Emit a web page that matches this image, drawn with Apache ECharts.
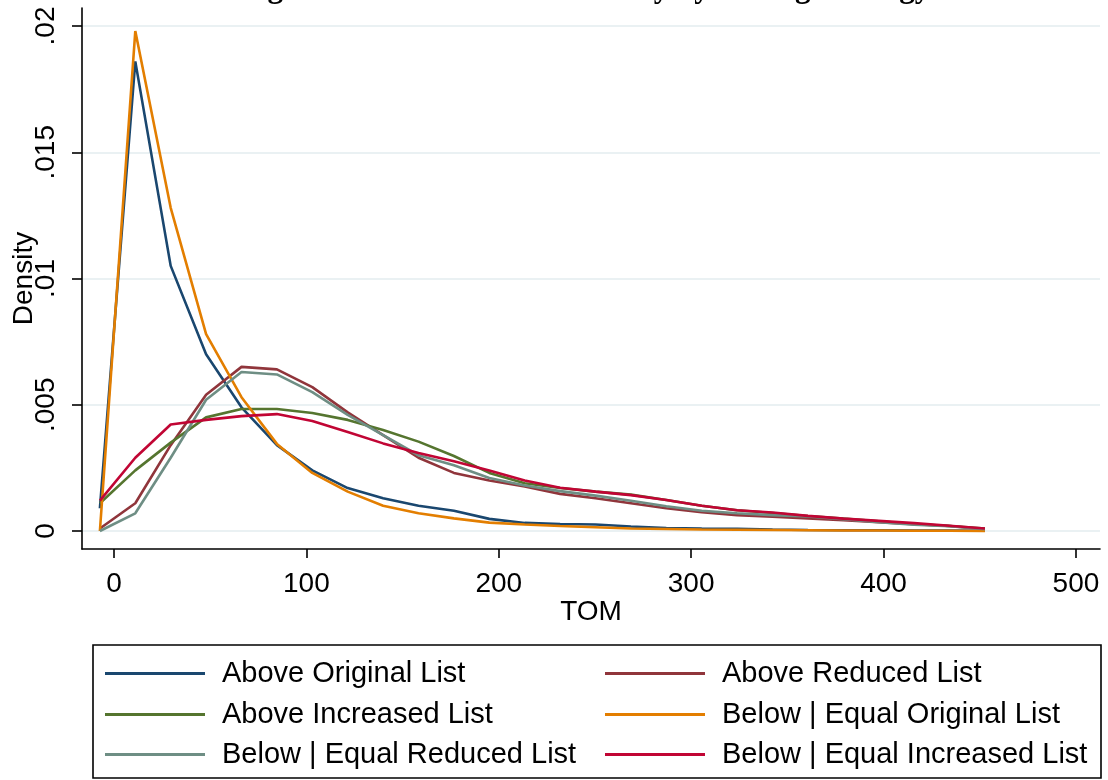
<!DOCTYPE html>
<html>
<head>
<meta charset="utf-8">
<title>TOM density by listing strategy</title>
<script src="https://cdn.jsdelivr.net/npm/echarts@6/dist/echarts.min.js"></script>
<style>
  html, body { margin: 0; padding: 0; background: #ffffff; }
  #chart { width: 1108px; height: 780px; }
</style>
</head>
<body>
<div id="chart"></div>
<script>
// Evaluation points (TOM, days) of the kernel density estimates
const tomGrid = [-7.3, 11.1, 29.5, 47.9, 66.3, 84.7, 103.1, 121.5, 139.9, 158.3, 176.7, 195.1, 213.5,
  231.9, 250.3, 268.7, 287.1, 305.5, 323.9, 342.3, 360.7, 379.1, 397.5, 415.9, 434.3, 452.7];

// Estimated densities, one array per listing-strategy group
const aboveOriginal = [0.0009, 0.0186, 0.0105, 0.0070, 0.0049, 0.0034, 0.0024, 0.0017, 0.0013, 0.0010, 0.0008, 0.00048, 0.00032,
  0.00028, 0.00026, 0.00018, 0.00012, 0.0001, 0.00009, 0.00006, 0.00004, 0.00003, 0.00003, 0.00002, 0.00002, 0.00001];
const aboveReduced = [0.0001, 0.0011, 0.0034, 0.0054, 0.0065, 0.0064, 0.0057, 0.0047, 0.0038, 0.0029, 0.0023, 0.0020, 0.00176,
  0.00147, 0.0013, 0.0011, 0.0009, 0.00074, 0.00063, 0.00057, 0.0005, 0.00043, 0.00035, 0.00027, 0.0002, 0.00007];
const aboveIncreased = [0.0011, 0.0024, 0.0035, 0.0045, 0.00483, 0.00483, 0.00467, 0.0044, 0.0040, 0.00354, 0.00297, 0.0023, 0.00189,
  0.0017, 0.00156, 0.00144, 0.00123, 0.0010, 0.00082, 0.00071, 0.00059, 0.00049, 0.00038, 0.00028, 0.0002, 0.0001];
const belowOriginal = [0, 0.0198, 0.0128, 0.0078, 0.0053, 0.00345, 0.0023, 0.00156, 0.0010, 0.0007, 0.0005, 0.00033, 0.00026,
  0.0002, 0.00015, 0.0001, 0.00008, 0.00006, 0.00005, 0.00004, 0.00003, 0.00002, 0.00002, 0.00001, 0.00001, 0];
const belowReduced = [0, 0.0007, 0.0029, 0.0052, 0.0063, 0.0062, 0.0055, 0.0046, 0.0038, 0.0030, 0.0026, 0.0021, 0.0018,
  0.00158, 0.0014, 0.0012, 0.00098, 0.0008, 0.0007, 0.00063, 0.00058, 0.00047, 0.00035, 0.00025, 0.00019, 0.00007];
const belowIncreased = [0.0012, 0.0029, 0.00422, 0.0044, 0.00455, 0.00463, 0.00436, 0.00392, 0.00347, 0.00309, 0.00276, 0.0024, 0.0020,
  0.00171, 0.00156, 0.00142, 0.00123, 0.0010, 0.00082, 0.00073, 0.0006, 0.00049, 0.0004, 0.00031, 0.00021, 0.0001];

// Group names, in legend order (two columns, filled row by row)
const groupNames = ['Above Original List', 'Above Reduced List', 'Above Increased List',
  'Below | Equal Original List', 'Below | Equal Reduced List', 'Below | Equal Increased List'];
const groupValues = [aboveOriginal, aboveReduced, aboveIncreased, belowOriginal, belowReduced, belowIncreased];
const groupColors = ['#1a476f', '#90353b', '#55752f', '#e37e00', '#6e8e84', '#c10534'];

// Axis ticks
const xTicks = [0, 100, 200, 300, 400, 500];
const yTicks = [0, 0.005, 0.01, 0.015, 0.02];

const sansFont = '"Liberation Sans", Arial, sans-serif';
const textSize = 28;

const series = groupNames.map((name, g) => ({
  name: name,
  type: 'line',
  symbol: 'none',
  smooth: false,
  data: tomGrid.map((t, i) => [t, groupValues[g][i]]),
  lineStyle: { color: groupColors[g], width: 2.6 },
  itemStyle: { color: groupColors[g] },
  emphasis: { disabled: true },
  animation: false
}));

// One legend block per entry so the two columns line up
const legendRows = [673, 714, 754];
const legendCols = [105, 605];
const legends = groupNames.map((name, g) => ({
  data: [name],
  left: legendCols[g % 2],
  top: legendRows[Math.floor(g / 2)] - 14,
  padding: 0,
  icon: 'rect',
  itemWidth: 100,
  itemHeight: 3,
  selectedMode: false,
  textStyle: {
    fontFamily: sansFont,
    fontSize: 29,
    lineHeight: 28,
    color: '#000',
    padding: [0, 0, 0, 12]
  }
}));

const chart = echarts.init(document.getElementById('chart'), null, { renderer: 'canvas' });
chart.setOption({
  backgroundColor: '#ffffff',
  animation: false,
  title: {
    text: 'Figure: Time on Market Density by Listing Strategy',
    left: 585,
    top: -27,
    padding: 0,
    textAlign: 'center',
    textStyle: {
      fontFamily: '"Liberation Serif", "Times New Roman", serif',
      fontWeight: 'bold',
      fontSize: 31,
      lineHeight: 31,
      color: '#000'
    }
  },
  grid: { left: 82, right: 8, top: 8, bottom: 231, containLabel: false, outerBoundsMode: 'none' },
  xAxis: {
    type: 'value',
    min: -16.6,
    max: 512.5,
    name: 'TOM',
    nameLocation: 'middle',
    nameGap: 49,
    nameMoveOverlap: false,
    nameTextStyle: { fontFamily: sansFont, fontSize: textSize, color: '#000' },
    axisLine: { onZero: false, lineStyle: { color: '#000', width: 1.6 } },
    axisTick: { show: true, length: 9, customValues: xTicks, lineStyle: { color: '#000', width: 1.6 } },
    axisLabel: {
      customValues: xTicks,
      margin: 21,
      fontFamily: sansFont,
      fontSize: textSize,
      color: '#000'
    },
    splitLine: { show: false }
  },
  yAxis: {
    type: 'value',
    min: -0.000713,
    max: 0.020713,
    name: 'Density',
    nameLocation: 'middle',
    nameRotate: 90,
    nameGap: 44,
    nameMoveOverlap: false,
    nameTextStyle: { fontFamily: sansFont, fontSize: textSize, color: '#000' },
    axisLine: { show: true, onZero: false, lineStyle: { color: '#000', width: 1.6 } },
    axisTick: { show: true, length: 10, customValues: yTicks, lineStyle: { color: '#000', width: 1.6 } },
    axisLabel: {
      customValues: yTicks,
      rotate: 90,
      margin: 22,
      fontFamily: sansFont,
      fontSize: textSize,
      color: '#000',
      formatter: v => (v === 0 ? '0' : String(v).replace(/^0/, ''))
    },
    splitLine: { show: true, lineStyle: { color: '#e3ecef', width: 1.6 } }
  },
  legend: legends,
  graphic: [{
    type: 'rect',
    shape: { x: 93, y: 645, width: 1008, height: 133 },
    style: { fill: 'none', stroke: '#000', lineWidth: 1.6 },
    silent: true,
    z: 10
  }],
  series: series
});
</script>
</body>
</html>
